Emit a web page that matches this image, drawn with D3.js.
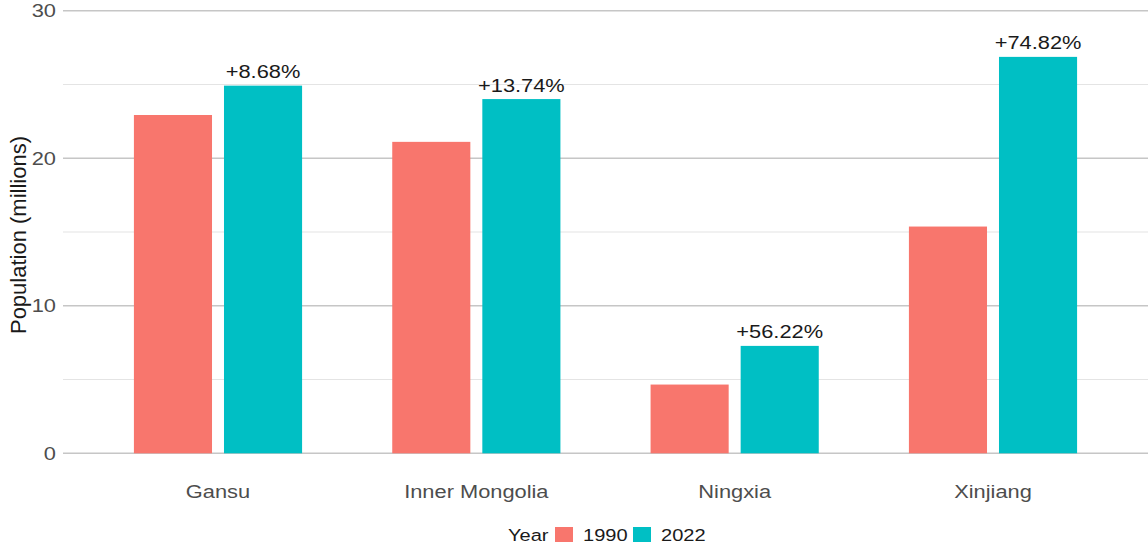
<!DOCTYPE html>
<html>
<head>
<meta charset="utf-8">
<script src="https://cdn.jsdelivr.net/npm/d3@7"></script>
<style>
  html, body { margin: 0; padding: 0; background: #ffffff; }
  svg { display: block; font-family: "Liberation Sans", Arial, Helvetica, sans-serif; }
</style>
</head>
<body>
<svg id="chart" width="1148" height="545"></svg>
<script>
// Population by region, in millions
const regions = ["Gansu", "Inner Mongolia", "Ningxia", "Xinjiang"];
const years = ["1990", "2022"];
const pop1990 = [22.93, 21.11, 4.66, 15.37];
const pop2022 = [24.92, 24.01, 7.28, 26.87];
const yTicks = [0, 10, 20, 30];
const yMinor = [5, 15, 25];
const colors = ["#F8766D", "#00BFC4"];

const W = 1148, H = 545;
const plot = { left: 63, right: 1148, top: 10.7, bottom: 453.3 };
const SX = 1.18; // horizontal glyph stretch of the typeface

const svg = d3.select("#chart");

const x = d3.scaleBand()
  .domain(regions)
  .range([plot.left, plot.right])
  .paddingInner(0.349)
  .paddingOuter(0.2745);

const xSub = d3.scaleBand()
  .domain(years)
  .range([0, x.bandwidth()])
  .paddingInner(0.133);

const y = d3.scaleLinear().domain([0, 30]).range([plot.bottom, plot.top]);

const color = d3.scaleOrdinal().domain(years).range(colors);

// helper: place text with the stretched glyph proportions
function placeText(sel, tx, ty) {
  return sel.attr("transform", d => `translate(${tx(d)},${ty(d)}) scale(${SX},1)`);
}

// gridlines
svg.append("g").selectAll("line.minor")
  .data(yMinor).join("line")
  .attr("x1", plot.left).attr("x2", plot.right)
  .attr("y1", d => y(d)).attr("y2", d => y(d))
  .attr("stroke", "#e4e4e4").attr("stroke-width", 1.1);

svg.append("g").selectAll("line.major")
  .data(yTicks).join("line")
  .attr("x1", plot.left).attr("x2", plot.right)
  .attr("y1", d => y(d)).attr("y2", d => y(d))
  .attr("stroke", "#c6c6c6").attr("stroke-width", 1.5);

// y tick labels
svg.append("g").selectAll("text")
  .data(yTicks).join("text")
  .call(placeText, () => 56, d => y(d) + 6.5)
  .attr("text-anchor", "end")
  .attr("font-size", 18.5)
  .attr("fill", "#4d4d4d")
  .text(d => d3.format("d")(d));

// bars
const rows = regions.map((r, i) => ({ region: r, values: [pop1990[i], pop2022[i]] }));

const groups = svg.append("g").selectAll("g")
  .data(rows).join("g")
  .attr("transform", d => `translate(${x(d.region)},0)`);

groups.selectAll("rect")
  .data(d => years.map((yr, j) => ({ year: yr, value: d.values[j] })))
  .join("rect")
  .attr("x", d => xSub(d.year))
  .attr("width", xSub.bandwidth())
  .attr("y", d => y(d.value))
  .attr("height", d => y(0) - y(d.value))
  .attr("fill", d => color(d.year));

// percent change labels over the 2022 bars
const pct = d3.format("+.2f");
groups.append("text")
  .call(placeText, () => xSub("2022") + xSub.bandwidth() / 2, d => y(d.values[1]) - 7.5)
  .attr("text-anchor", "middle")
  .attr("font-size", 18.5)
  .attr("fill", "#1a1a1a")
  .text(d => pct((d.values[1] / d.values[0] - 1) * 100) + "%");

// x tick labels
svg.append("g").selectAll("text")
  .data(regions).join("text")
  .call(placeText, d => x(d) + x.bandwidth() / 2, () => 498)
  .attr("text-anchor", "middle")
  .attr("font-size", 18.5)
  .attr("fill", "#4d4d4d")
  .text(d => d);

// y axis title
svg.append("text")
  .attr("transform", `translate(25.5,235) rotate(-90)`)
  .attr("text-anchor", "middle")
  .attr("font-size", 22)
  .attr("fill", "#1a1a1a")
  .text("Population (millions)");

// legend
const legend = svg.append("g");
legend.append("text")
  .attr("transform", `translate(508,541) scale(${SX},1)`)
  .attr("font-size", 17)
  .attr("fill", "#1a1a1a")
  .text("Year");

const legendX = [555, 633];
const items = legend.selectAll("g.item")
  .data(years).join("g")
  .attr("transform", (d, i) => `translate(${legendX[i]},0)`);
items.append("rect")
  .attr("x", 0).attr("y", 527)
  .attr("width", 18).attr("height", 15)
  .attr("fill", d => color(d));
items.append("text")
  .attr("transform", `translate(28,541) scale(${SX},1)`)
  .attr("font-size", 17)
  .attr("fill", "#1a1a1a")
  .text(d => d);
</script>
</body>
</html>
